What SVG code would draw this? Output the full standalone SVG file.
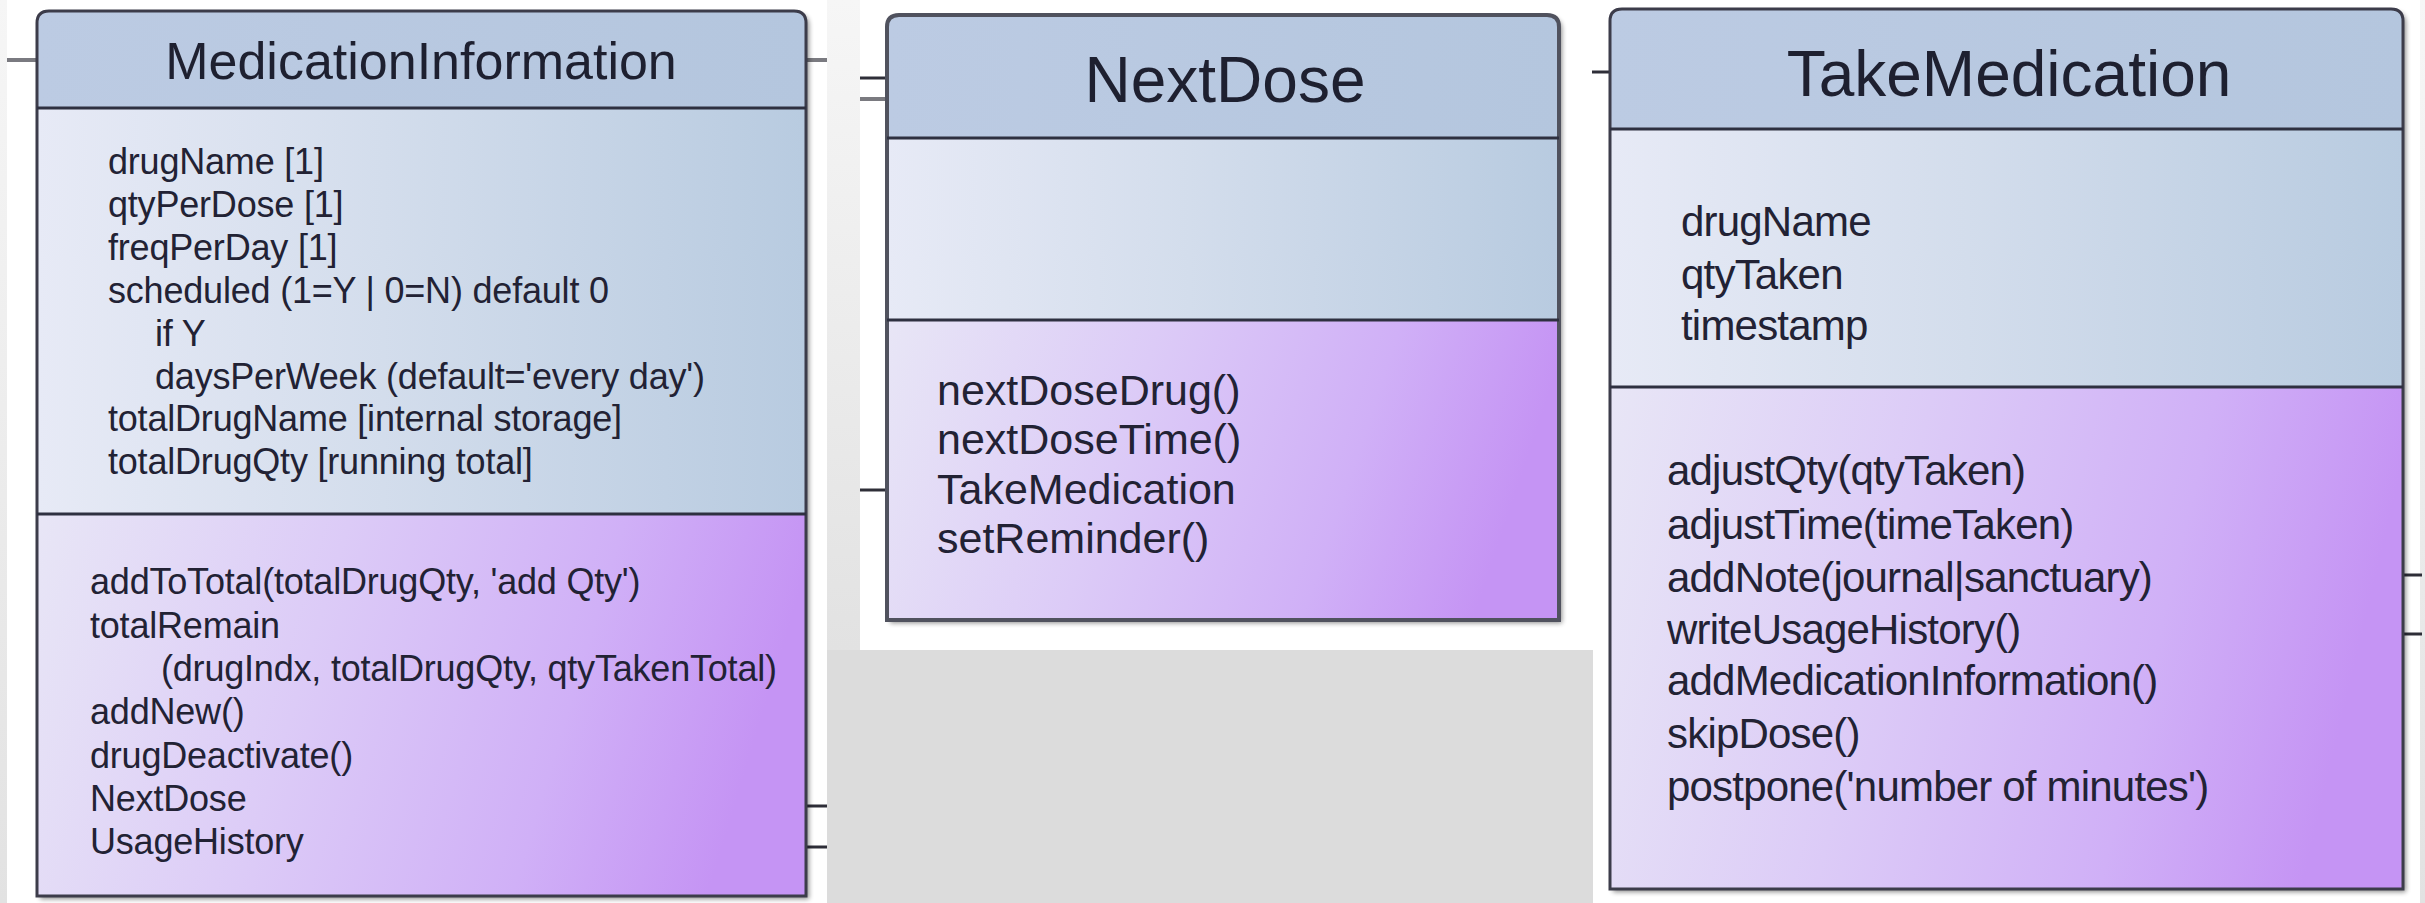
<svg xmlns="http://www.w3.org/2000/svg" width="2425" height="903" viewBox="0 0 2425 903">
  <defs>
    <linearGradient id="gHead" x1="0" y1="0" x2="1" y2="0">
      <stop offset="0" stop-color="#bccbe3"/>
      <stop offset="1" stop-color="#b4c6de"/>
    </linearGradient>
    <linearGradient id="gAttr" x1="0" y1="0" x2="1" y2="0">
      <stop offset="0" stop-color="#e7eaf6"/>
      <stop offset="0.45" stop-color="#d3ddec"/>
      <stop offset="1" stop-color="#b8cbe0"/>
    </linearGradient>
    <linearGradient id="gMeth" x1="0" y1="0" x2="1" y2="0.15">
      <stop offset="0" stop-color="#e8e6f6"/>
      <stop offset="0.4" stop-color="#dccbf7"/>
      <stop offset="0.75" stop-color="#d0b0f7"/>
      <stop offset="1" stop-color="#c594f4"/>
    </linearGradient>
    <linearGradient id="gGap" x1="0" y1="0" x2="0" y2="1">
      <stop offset="0" stop-color="#f6f6f6"/>
      <stop offset="1" stop-color="#e2e2e2"/>
    </linearGradient>
    <filter id="shadow" x="-5%" y="-5%" width="110%" height="110%">
      <feGaussianBlur in="SourceAlpha" stdDeviation="2.5"/>
      <feOffset dx="3" dy="3" result="b"/>
      <feComponentTransfer><feFuncA type="linear" slope="0.45"/></feComponentTransfer>
      <feMerge><feMergeNode/><feMergeNode in="SourceGraphic"/></feMerge>
    </filter>
  </defs>
  <style>
    .frame { fill: none; stroke: #3c3c4a; stroke-width: 3; }
    .div { stroke: #2e3040; stroke-width: 3; }
    .title { font-family: "Liberation Sans", Arial, sans-serif; fill: #1e2030; text-anchor: middle; }
    .t1 { font-family: "Liberation Sans", Arial, sans-serif; font-size: 36px; fill: #222234; letter-spacing: -0.2px; }
    .t2 { font-family: "Liberation Sans", Arial, sans-serif; font-size: 43px; fill: #222234; }
    .t3 { font-family: "Liberation Sans", Arial, sans-serif; font-size: 42px; fill: #222234; letter-spacing: -0.8px; }
    .stub { stroke: #2e2e38; stroke-width: 3; }
    .stubg { stroke: #7a7a80; stroke-width: 4; }
  </style>

  <!-- background -->
  <rect x="0" y="0" width="2425" height="903" fill="#ffffff"/>
  <rect x="0" y="0" width="7" height="903" fill="url(#gGap)"/>
  <rect x="827" y="0" width="33" height="650" fill="url(#gGap)"/>
  <rect x="827" y="650" width="766" height="253" fill="#dcdcdc"/>
  <rect x="2420" y="0" width="5" height="903" fill="url(#gGap)"/>

  <!-- connectors -->
  <g id="connectors">
    <line class="stubg" x1="7" y1="60" x2="37" y2="60"/>
    <line class="stubg" x1="806" y1="60" x2="827" y2="60"/>
    <line class="stub" x1="806" y1="806" x2="827" y2="806"/>
    <line class="stub" x1="806" y1="847" x2="827" y2="847"/>
    <line class="stub" x1="860" y1="78" x2="887" y2="78"/>
    <line class="stubg" x1="860" y1="99" x2="887" y2="99"/>
    <line class="stub" x1="860" y1="490" x2="887" y2="490"/>
    <line class="stub" x1="1592" y1="72" x2="1610" y2="72"/>
    <line class="stub" x1="2403" y1="575" x2="2422" y2="575"/>
    <line class="stub" x1="2403" y1="634" x2="2422" y2="634"/>
  </g>

  <!-- MedicationInformation -->
  <g id="MedicationInformation">
    <g filter="url(#shadow)">
      <path d="M37,108 V23 Q37,11 49,11 H794 Q806,11 806,23 V108 Z" fill="url(#gHead)"/>
      <rect x="37" y="108" width="769" height="406" fill="url(#gAttr)"/>
      <rect x="37" y="514" width="769" height="382" fill="url(#gMeth)"/>
    </g>
    <path class="frame" d="M37,896 V23 Q37,11 49,11 H794 Q806,11 806,23 V896 Z"/>
    <line class="div" x1="37" y1="108" x2="806" y2="108"/>
    <line class="div" x1="37" y1="514" x2="806" y2="514"/>
    <text class="title" x="421" y="79" font-size="52">MedicationInformation</text>
    <text class="t1" x="108" y="174">drugName [1]</text>
    <text class="t1" x="108" y="217">qtyPerDose [1]</text>
    <text class="t1" x="108" y="260">freqPerDay [1]</text>
    <text class="t1" x="108" y="303">scheduled (1=Y | 0=N) default 0</text>
    <text class="t1" x="155" y="346">if Y</text>
    <text class="t1" x="155" y="389">daysPerWeek (default='every day')</text>
    <text class="t1" x="108" y="431">totalDrugName [internal storage]</text>
    <text class="t1" x="108" y="474">totalDrugQty [running total]</text>
    <text class="t1" x="90" y="594">addToTotal(totalDrugQty, 'add Qty')</text>
    <text class="t1" x="90" y="638">totalRemain</text>
    <text class="t1" x="161" y="681">(drugIndx, totalDrugQty, qtyTakenTotal)</text>
    <text class="t1" x="90" y="724">addNew()</text>
    <text class="t1" x="90" y="768">drugDeactivate()</text>
    <text class="t1" x="90" y="811">NextDose</text>
    <text class="t1" x="90" y="854">UsageHistory</text>
  </g>

  <!-- NextDose -->
  <g id="NextDose">
    <g filter="url(#shadow)">
      <path d="M887,138 V27 Q887,15 899,15 H1547 Q1559,15 1559,27 V138 Z" fill="url(#gHead)"/>
      <rect x="887" y="138" width="672" height="182" fill="url(#gAttr)"/>
      <rect x="887" y="320" width="672" height="300" fill="url(#gMeth)"/>
    </g>
    <path class="frame" d="M887,620 V27 Q887,15 899,15 H1547 Q1559,15 1559,27 V620 Z" style="stroke:#50525e;stroke-width:4"/>
    <line class="div" x1="887" y1="138" x2="1559" y2="138"/>
    <line class="div" x1="887" y1="320" x2="1559" y2="320"/>
    <text class="title" x="1225" y="102" font-size="64">NextDose</text>
    <text class="t2" x="937" y="405">nextDoseDrug()</text>
    <text class="t2" x="937" y="454">nextDoseTime()</text>
    <text class="t2" x="937" y="504">TakeMedication</text>
    <text class="t2" x="937" y="553">setReminder()</text>
  </g>

  <!-- TakeMedication -->
  <g id="TakeMedication">
    <g filter="url(#shadow)">
      <path d="M1610,129 V21 Q1610,9 1622,9 H2391 Q2403,9 2403,21 V129 Z" fill="url(#gHead)"/>
      <rect x="1610" y="129" width="793" height="258" fill="url(#gAttr)"/>
      <rect x="1610" y="387" width="793" height="502" fill="url(#gMeth)"/>
    </g>
    <path class="frame" d="M1610,889 V21 Q1610,9 1622,9 H2391 Q2403,9 2403,21 V889 Z"/>
    <line class="div" x1="1610" y1="129" x2="2403" y2="129"/>
    <line class="div" x1="1610" y1="387" x2="2403" y2="387"/>
    <text class="title" x="2009" y="96" font-size="64">TakeMedication</text>
    <text class="t3" x="1681" y="236">drugName</text>
    <text class="t3" x="1681" y="289">qtyTaken</text>
    <text class="t3" x="1681" y="340">timestamp</text>
    <text class="t3" x="1667" y="485">adjustQty(qtyTaken)</text>
    <text class="t3" x="1667" y="539">adjustTime(timeTaken)</text>
    <text class="t3" x="1667" y="592">addNote(journal|sanctuary)</text>
    <text class="t3" x="1667" y="644">writeUsageHistory()</text>
    <text class="t3" x="1667" y="695">addMedicationInformation()</text>
    <text class="t3" x="1667" y="748">skipDose()</text>
    <text class="t3" x="1667" y="801">postpone('number of minutes')</text>
  </g>
</svg>
